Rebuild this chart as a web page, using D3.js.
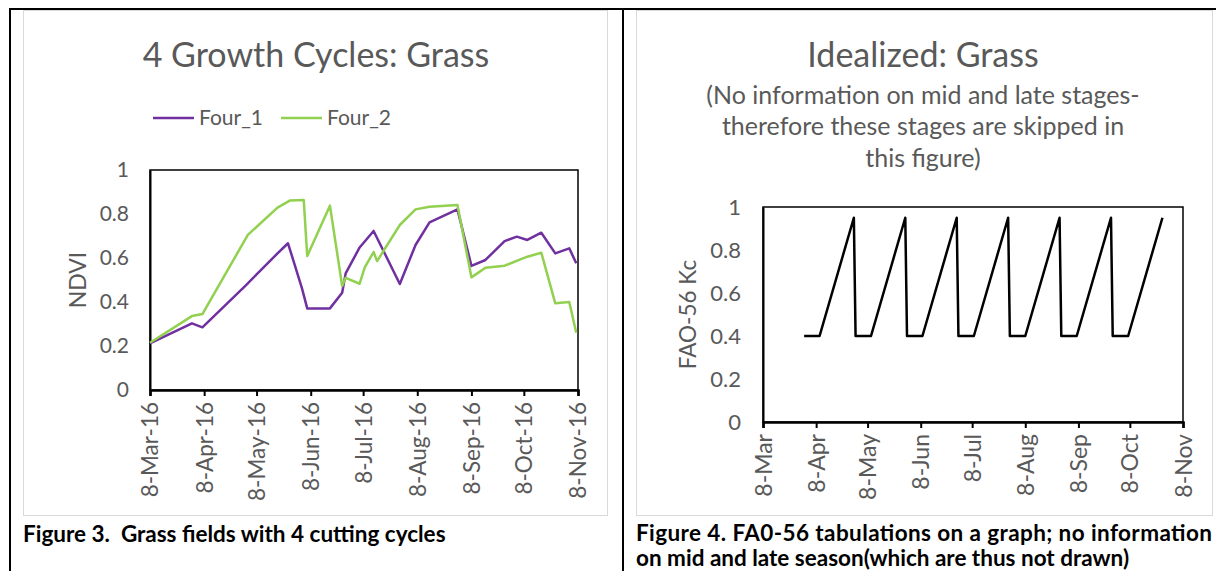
<!DOCTYPE html>
<html>
<head>
<meta charset="utf-8">
<script src="https://cdn.jsdelivr.net/npm/d3@7"></script>
<style>
  html, body { margin: 0; padding: 0; background: #fff; }
  svg { display: block; }
  text { font-family: Lato, "Open Sans", sans-serif; }
</style>
</head>
<body>
<svg id="chart" width="1217" height="571"></svg>
<script>
// ---------- DATA ----------
const four1Dates = ["2016-03-08","2016-04-01","2016-04-07","2016-05-02","2016-05-20","2016-05-26","2016-06-03","2016-06-06","2016-06-19","2016-06-26","2016-06-28","2016-07-06","2016-07-14","2016-07-29","2016-08-07","2016-08-15","2016-08-31","2016-09-08","2016-09-16","2016-09-27","2016-10-04","2016-10-10","2016-10-18","2016-10-26","2016-11-03","2016-11-07"];
const four1Values = [0.212,0.303,0.285,0.477,0.621,0.667,0.462,0.371,0.371,0.442,0.530,0.648,0.723,0.482,0.659,0.762,0.821,0.564,0.591,0.677,0.697,0.682,0.715,0.621,0.644,0.576];

const four2Dates = ["2016-03-08","2016-04-01","2016-04-07","2016-05-03","2016-05-20","2016-05-27","2016-06-04","2016-06-06","2016-06-19","2016-06-26","2016-06-28","2016-07-06","2016-07-09","2016-07-14","2016-07-16","2016-07-29","2016-08-07","2016-08-15","2016-08-31","2016-09-08","2016-09-16","2016-09-27","2016-10-10","2016-10-18","2016-10-26","2016-11-03","2016-11-07"];
const four2Values = [0.215,0.336,0.345,0.705,0.829,0.861,0.864,0.609,0.838,0.473,0.510,0.483,0.558,0.627,0.586,0.750,0.821,0.833,0.841,0.512,0.556,0.565,0.606,0.624,0.394,0.400,0.260];

const kcDates = ["2016-04-01","2016-04-10","2016-04-30","2016-05-01","2016-05-10","2016-05-30","2016-05-31","2016-06-09","2016-06-29","2016-06-30","2016-07-09","2016-07-29","2016-07-30","2016-08-08","2016-08-28","2016-08-29","2016-09-07","2016-09-27","2016-09-28","2016-10-07","2016-10-27"];
const kcValues = [0.4,0.4,0.95,0.4,0.4,0.95,0.4,0.4,0.95,0.4,0.4,0.95,0.4,0.4,0.95,0.4,0.4,0.95,0.4,0.4,0.95];

const tickDates = ["2016-03-08","2016-04-08","2016-05-08","2016-06-08","2016-07-08","2016-08-08","2016-09-08","2016-10-08","2016-11-08"];
const leftTickLabels = ["8-Mar-16","8-Apr-16","8-May-16","8-Jun-16","8-Jul-16","8-Aug-16","8-Sep-16","8-Oct-16","8-Nov-16"];
const rightTickLabels = ["8-Mar","8-Apr","8-May","8-Jun","8-Jul","8-Aug","8-Sep","8-Oct","8-Nov"];
const yTicks = [0, 0.2, 0.4, 0.6, 0.8, 1];

const seriesNames = ["Four_1", "Four_2"];
const seriesColors = ["#7030A0", "#92D050"];

// ---------- DRAW ----------
const parse = d3.timeParse("%Y-%m-%d");
const svg = d3.select("#chart");
const grayText = "#595959";
const FONT = "Lato, 'Open Sans', sans-serif";

// outer table lines
svg.append("line").attr("x1", 9).attr("x2", 1216).attr("y1", 9).attr("y2", 9).attr("stroke", "#000").attr("stroke-width", 2);
svg.append("line").attr("x1", 10).attr("x2", 10).attr("y1", 8).attr("y2", 571).attr("stroke", "#000").attr("stroke-width", 2);
svg.append("line").attr("x1", 623).attr("x2", 623).attr("y1", 8).attr("y2", 571).attr("stroke", "#000").attr("stroke-width", 2);

// chart frames
svg.append("rect").attr("x", 23.5).attr("y", 10.5).attr("width", 584).attr("height", 505).attr("fill", "none").attr("stroke", "#d9d9d9");
svg.append("rect").attr("x", 636.5).attr("y", 10.5).attr("width", 576).attr("height", 505).attr("fill", "none").attr("stroke", "#d9d9d9");

const domain = [parse(tickDates[0]), parse(tickDates[tickDates.length - 1])];

function drawPanel(cfg) {
  const x = d3.scaleTime().domain(domain).range([cfg.left, cfg.right]);
  const y = d3.scaleLinear().domain([0, 1]).range([cfg.bottom, cfg.top]);
  const g = svg.append("g");

  g.append("rect").attr("x", cfg.left).attr("y", cfg.top)
    .attr("width", cfg.right - cfg.left).attr("height", cfg.bottom - cfg.top)
    .attr("fill", "none").attr("stroke", "#000").attr("stroke-width", 1.5);

  const ya = g.append("g").attr("transform", `translate(${cfg.left},0)`)
    .call(d3.axisLeft(y).tickValues(yTicks).tickSize(0).tickPadding(cfg.yPad).tickFormat(d3.format("~g")));
  ya.select(".domain").attr("stroke", "#000").attr("stroke-width", 2);
  ya.selectAll("text").attr("fill", grayText).style("font-size", cfg.yFont + "px").style("font-family", FONT);

  const xa = g.append("g").attr("transform", `translate(0,${cfg.bottom})`)
    .call(d3.axisBottom(x).tickValues(tickDates.map(parse)).tickSize(6)
      .tickFormat((d, i) => cfg.tickLabels[i]));
  xa.select(".domain").attr("stroke", "#000").attr("stroke-width", 2.5);
  xa.selectAll(".tick line").attr("stroke", "#000").attr("stroke-width", 2);
  xa.selectAll("text")
    .attr("fill", grayText).style("font-size", cfg.xFont + "px").style("font-family", FONT)
    .attr("text-anchor", "end")
    .attr("transform", "rotate(-90)")
    .attr("x", -cfg.xPad).attr("y", 0).attr("dy", "0.35em");

  g.append("text").attr("transform", `translate(${cfg.yLabelX},${(cfg.top + cfg.bottom) / 2}) rotate(-90)`)
    .attr("text-anchor", "middle").attr("dy", "0.35em")
    .attr("fill", grayText).style("font-size", cfg.yLabelFont + "px").text(cfg.yLabel);

  const line = d3.line().x(d => x(d.date)).y(d => y(d.value));
  cfg.series.forEach(s => {
    const data = s.dates.map((d, i) => ({ date: parse(d), value: s.values[i] }));
    g.append("path").datum(data).attr("d", line)
      .attr("fill", "none").attr("stroke", s.color).attr("stroke-width", 2.5)
      .attr("stroke-linejoin", "round");
  });
  return g;
}

// Left panel
drawPanel({
  left: 150, right: 578, top: 170, bottom: 390,
  yPad: 21, yFont: 21, xFont: 22.5, xPad: 12,
  tickLabels: leftTickLabels,
  yLabel: "NDVI", yLabelX: 78, yLabelFont: 23,
  series: [
    { dates: four1Dates, values: four1Values, color: seriesColors[0] },
    { dates: four2Dates, values: four2Values, color: seriesColors[1] }
  ]
});

svg.append("text").attr("x", 316).attr("y", 55).attr("text-anchor", "middle").attr("dy", "0.35em")
  .attr("fill", grayText).style("font-size", "34px").text("4 Growth Cycles: Grass");

// legend
const legendX = [153, 281];
seriesNames.forEach((n, i) => {
  svg.append("line").attr("x1", legendX[i]).attr("x2", legendX[i] + 41).attr("y1", 118).attr("y2", 118)
    .attr("stroke", seriesColors[i]).attr("stroke-width", 2.5);
  svg.append("text").attr("x", legendX[i] + 46).attr("y", 118).attr("dy", "0.35em")
    .attr("fill", grayText).style("font-size", "21px").text(n);
});

// Right panel
drawPanel({
  left: 763, right: 1183, top: 207, bottom: 422,
  yPad: 22, yFont: 22, xFont: 23, xPad: 12,
  tickLabels: rightTickLabels,
  yLabel: "FAO-56 Kc", yLabelX: 688, yLabelFont: 22.5,
  series: [{ dates: kcDates, values: kcValues, color: "#000" }]
});

svg.append("text").attr("x", 923).attr("y", 55).attr("text-anchor", "middle").attr("dy", "0.35em")
  .attr("fill", grayText).style("font-size", "34px").text("Idealized: Grass");
const subLines = ["(No information on mid and late stages-", "therefore these stages are skipped in", "this figure)"];
subLines.forEach((t, i) => {
  svg.append("text").attr("x", 923).attr("y", 95 + i * 31.5).attr("text-anchor", "middle").attr("dy", "0.35em")
    .attr("fill", grayText).style("font-size", "25px").text(t);
});

// captions
svg.append("text").attr("x", 23).attr("y", 534).attr("dy", "0.35em")
  .attr("fill", "#000").style("font-size", "22.5px").style("font-weight", "bold").style("white-space", "pre")
  .text("Figure 3.  Grass fields with 4 cutting cycles");
svg.append("text").attr("x", 636).attr("y", 533).attr("dy", "0.35em")
  .attr("fill", "#000").style("font-size", "22.5px").style("font-weight", "bold")
  .attr("textLength", 576).attr("lengthAdjust", "spacing")
  .text("Figure 4. FA0-56 tabulations on a graph; no information");
svg.append("text").attr("x", 636).attr("y", 558).attr("dy", "0.35em")
  .attr("fill", "#000").style("font-size", "22.5px").style("font-weight", "bold")
  .text("on mid and late season(which are thus not drawn)");
</script>
</body>
</html>
